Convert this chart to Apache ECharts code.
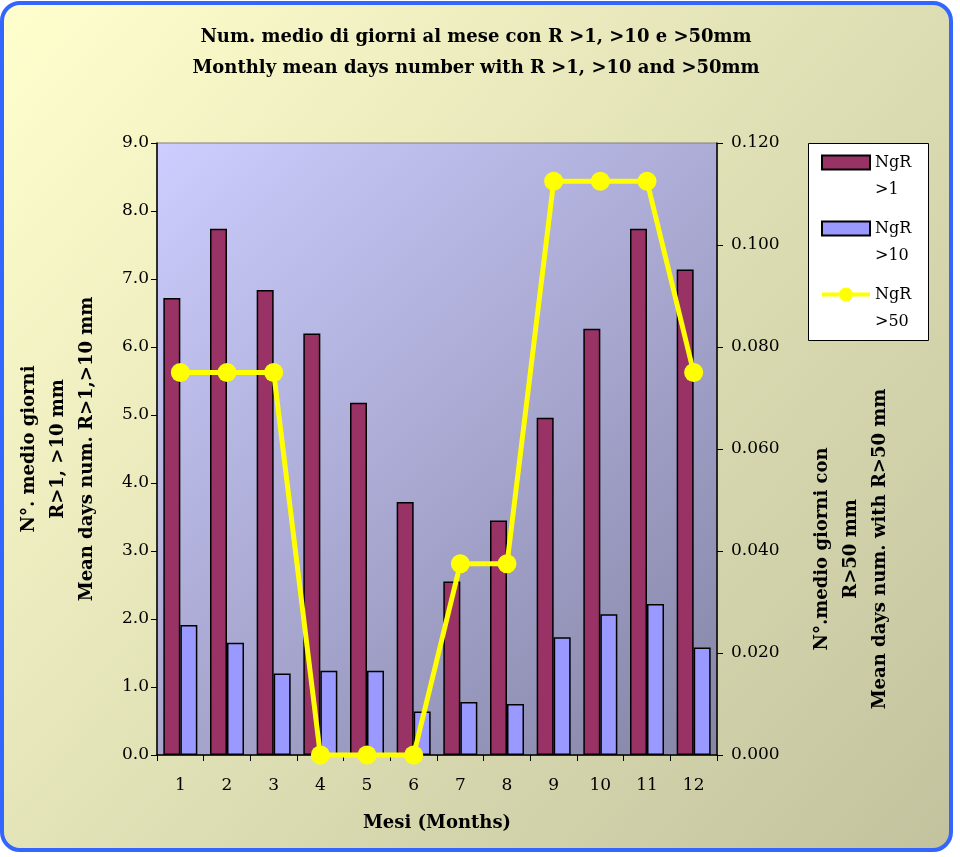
<!DOCTYPE html>
<html>
<head>
<meta charset="utf-8">
<script src="https://cdn.jsdelivr.net/npm/echarts@6/dist/echarts.min.js"></script>
<style>
html,body{margin:0;padding:0;background:#ffffff;}
#chart{width:960px;height:857px;}
</style>
</head>
<body>
<div id="chart"></div>
<script>
// ---- data ----
var months = ['1','2','3','4','5','6','7','8','9','10','11','12'];
var ngr1  = [6.72, 7.74, 6.84, 6.20, 5.18, 3.72, 2.55, 3.45, 4.96, 6.27, 7.74, 7.14];
var ngr10 = [1.91, 1.65, 1.20, 1.24, 1.24, 0.64, 0.78, 0.75, 1.73, 2.07, 2.22, 1.58];
var ngr50 = [0.075, 0.075, 0.075, 0, 0, 0, 0.0375, 0.0375, 0.1125, 0.1125, 0.1125, 0.075];
var seriesNames = ['NgR >1', 'NgR >10', 'NgR >50'];
var titleText = 'Num. medio di giorni al mese con R >1, >10 e >50mm\nMonthly mean days number with R >1, >10 and >50mm';
var leftAxisName = 'N°. medio giorni\nR>1, >10 mm\nMean days num. R>1,>10 mm';
var rightAxisName = 'N°.medio giorni con\nR>50 mm\nMean days num. with R>50 mm';
var xAxisName = 'Mesi (Months)';

var FONT = 'DejaVu Serif';
var chart = echarts.init(document.getElementById('chart'), null, {renderer: 'canvas'});

var option = {
  animation: false,
  graphic: {
    elements: [
      {
        type: 'rect', z: -100, silent: true,
        shape: {x: 2, y: 3, width: 949, height: 847, r: 18},
        style: {
          fill: new echarts.graphic.LinearGradient(0, 0, 1, 1, [
            {offset: 0, color: '#FFFFCE'},
            {offset: 1, color: '#C2C29E'}
          ]),
          stroke: '#3366FF', lineWidth: 4
        }
      },
      {
        type: 'rect', z: -50, silent: true,
        shape: {x: 808.5, y: 143.5, width: 120, height: 197},
        style: {fill: '#ffffff', stroke: '#000000', lineWidth: 1}
      }
    ]
  },
  title: {
    text: titleText,
    left: 476, top: 22, padding: 0,
    textAlign: 'center',
    textStyle: {fontFamily: FONT, fontWeight: 'bold', fontSize: 18, lineHeight: 31, color: '#000'}
  },
  legend: {
    orient: 'vertical',
    left: 821, top: 122, padding: 0,
    itemWidth: 48, itemHeight: 14, itemGap: -15,
    selectedMode: false,
    data: [
      {name: seriesNames[0], icon: 'rect'},
      {name: seriesNames[1], icon: 'rect'},
      {name: seriesNames[2], icon: 'path://M0,5.5 L17,5.5 L17,9.5 L0,9.5 Z M31,5.5 L48,5.5 L48,9.5 L31,9.5 Z M17,7.5 A7,7 0 1 1 31,7.5 A7,7 0 1 1 17,7.5 Z'}
    ],
    formatter: function (n) { return '\u00a0\n' + n.replace(' ', '\n'); },
    textStyle: {fontFamily: FONT, fontSize: 16, lineHeight: 27, color: '#000'}
  },
  grid: {
    left: 157, right: 243, top: 143, bottom: 102,
    containLabel: false,
    outerBoundsMode: 'none',
    show: true,
    borderColor: '#808080', borderWidth: 1,
    backgroundColor: new echarts.graphic.LinearGradient(0, 0, 1, 1, [
      {offset: 0, color: '#CDCDFF'},
      {offset: 1, color: '#8585A6'}
    ])
  },
  xAxis: {
    type: 'category',
    data: months,
    boundaryGap: true,
    name: xAxisName,
    nameLocation: 'middle',
    nameGap: 59,
    nameTextStyle: {fontFamily: FONT, fontWeight: 'bold', fontSize: 18, color: '#000', verticalAlign: 'top'},
    axisLine: {lineStyle: {color: '#000', width: 1.5}},
    axisTick: {show: true, interval: 0, alignWithLabel: false, length: 6, lineStyle: {color: '#000'}},
    axisLabel: {interval: 0, margin: 22, fontFamily: FONT, fontSize: 17, color: '#000'},
    splitLine: {show: false}
  },
  yAxis: [
    {
      type: 'value', min: 0, max: 9, interval: 1,
      position: 'left',
      name: leftAxisName,
      nameLocation: 'middle', nameRotate: 90, nameGap: 55,
      nameTextStyle: {fontFamily: FONT, fontWeight: 'bold', fontSize: 18, lineHeight: 29, color: '#000', align: 'center'},
      axisLine: {show: true, lineStyle: {color: '#000', width: 1.5}},
      axisTick: {show: true, length: 6, lineStyle: {color: '#000'}},
      axisLabel: {margin: 8, fontFamily: FONT, fontSize: 17, color: '#000', formatter: function (v) { return v.toFixed(1); }},
      splitLine: {show: false}
    },
    {
      type: 'value', min: 0, max: 0.12, interval: 0.02,
      position: 'right',
      name: rightAxisName,
      nameLocation: 'middle', nameRotate: 90, nameGap: 91,
      nameTextStyle: {fontFamily: FONT, fontWeight: 'bold', fontSize: 18, lineHeight: 29, color: '#000', align: 'center', padding: [0, 200, 0, 0]},
      axisLine: {show: true, lineStyle: {color: '#000', width: 1.5}},
      axisTick: {show: true, length: 6, lineStyle: {color: '#000'}},
      axisLabel: {margin: 14, fontFamily: FONT, fontSize: 17, color: '#000', formatter: function (v) { return v.toFixed(3); }},
      splitLine: {show: false}
    }
  ],
  series: [
    {
      name: seriesNames[0], type: 'bar', data: ngr1, yAxisIndex: 0,
      barWidth: 17, barGap: '0%',
      itemStyle: {color: '#993366', borderColor: '#000', borderWidth: 1.5}
    },
    {
      name: seriesNames[1], type: 'bar', data: ngr10, yAxisIndex: 0,
      barWidth: 17, barGap: '0%',
      itemStyle: {color: '#9999FF', borderColor: '#000', borderWidth: 1.5}
    },
    {
      name: seriesNames[2], type: 'line', data: ngr50, yAxisIndex: 1,
      z: 5, clip: false,
      symbol: 'circle', symbolSize: 19,
      lineStyle: {color: '#FFFF00', width: 5},
      itemStyle: {color: '#FFFF00'}
    }
  ]
};
chart.setOption(option);
</script>
</body>
</html>
